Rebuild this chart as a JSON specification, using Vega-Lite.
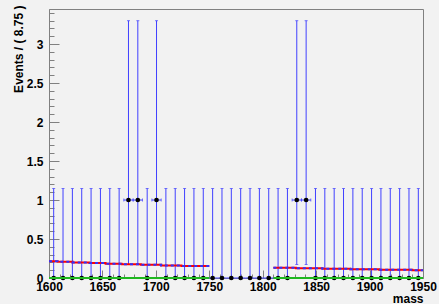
{
  "$schema": "https://vega.github.io/schema/vega-lite/v6.json",
  "width": 374,
  "height": 269,
  "autosize": {"type": "none"},
  "padding": {"left": 49, "top": 9, "right": 16, "bottom": 26},
  "background": "#f2f2f2",
  "config": {
    "view": {"stroke": "#808080", "strokeWidth": 1, "fill": "#f2f2f2"},
    "axis": {"domainColor": "#808080", "tickColor": "#808080", "labelFont": "Liberation Sans", "labelFontWeight": "bold", "labelFontSize": 12, "labelColor": "#000000", "titleFont": "Liberation Sans", "titleFontWeight": "bold", "titleFontSize": 12, "titleColor": "#000000", "grid": false, "labelOverlap": false, "labelFlush": false}
  },
  "datasets": {
    "bins": [
      {"mass": 1604.375, "n": 0, "lo": 0, "hi": 1.148, "xlo": 1600, "xhi": 1608.75},
      {"mass": 1613.125, "n": 0, "lo": 0, "hi": 1.148, "xlo": 1608.75, "xhi": 1617.5},
      {"mass": 1621.875, "n": 0, "lo": 0, "hi": 1.148, "xlo": 1617.5, "xhi": 1626.25},
      {"mass": 1630.625, "n": 0, "lo": 0, "hi": 1.148, "xlo": 1626.25, "xhi": 1635},
      {"mass": 1639.375, "n": 0, "lo": 0, "hi": 1.148, "xlo": 1635, "xhi": 1643.75},
      {"mass": 1648.125, "n": 0, "lo": 0, "hi": 1.148, "xlo": 1643.75, "xhi": 1652.5},
      {"mass": 1656.875, "n": 0, "lo": 0, "hi": 1.148, "xlo": 1652.5, "xhi": 1661.25},
      {"mass": 1665.625, "n": 0, "lo": 0, "hi": 1.148, "xlo": 1661.25, "xhi": 1670},
      {"mass": 1674.375, "n": 1, "lo": 0.173, "hi": 3.3, "xlo": 1670, "xhi": 1678.75},
      {"mass": 1683.125, "n": 1, "lo": 0.173, "hi": 3.3, "xlo": 1678.75, "xhi": 1687.5},
      {"mass": 1691.875, "n": 0, "lo": 0, "hi": 1.148, "xlo": 1687.5, "xhi": 1696.25},
      {"mass": 1700.625, "n": 1, "lo": 0.173, "hi": 3.3, "xlo": 1696.25, "xhi": 1705},
      {"mass": 1709.375, "n": 0, "lo": 0, "hi": 1.148, "xlo": 1705, "xhi": 1713.75},
      {"mass": 1718.125, "n": 0, "lo": 0, "hi": 1.148, "xlo": 1713.75, "xhi": 1722.5},
      {"mass": 1726.875, "n": 0, "lo": 0, "hi": 1.148, "xlo": 1722.5, "xhi": 1731.25},
      {"mass": 1735.625, "n": 0, "lo": 0, "hi": 1.148, "xlo": 1731.25, "xhi": 1740},
      {"mass": 1744.375, "n": 0, "lo": 0, "hi": 1.148, "xlo": 1740, "xhi": 1748.75},
      {"mass": 1753.125, "n": 0, "lo": 0, "hi": 1.148, "xlo": 1748.75, "xhi": 1757.5},
      {"mass": 1761.875, "n": 0, "lo": 0, "hi": 1.148, "xlo": 1757.5, "xhi": 1766.25},
      {"mass": 1770.625, "n": 0, "lo": 0, "hi": 1.148, "xlo": 1766.25, "xhi": 1775},
      {"mass": 1779.375, "n": 0, "lo": 0, "hi": 1.148, "xlo": 1775, "xhi": 1783.75},
      {"mass": 1788.125, "n": 0, "lo": 0, "hi": 1.148, "xlo": 1783.75, "xhi": 1792.5},
      {"mass": 1796.875, "n": 0, "lo": 0, "hi": 1.148, "xlo": 1792.5, "xhi": 1801.25},
      {"mass": 1805.625, "n": 0, "lo": 0, "hi": 1.148, "xlo": 1801.25, "xhi": 1810},
      {"mass": 1814.375, "n": 0, "lo": 0, "hi": 1.148, "xlo": 1810, "xhi": 1818.75},
      {"mass": 1823.125, "n": 0, "lo": 0, "hi": 1.148, "xlo": 1818.75, "xhi": 1827.5},
      {"mass": 1831.875, "n": 1, "lo": 0.173, "hi": 3.3, "xlo": 1827.5, "xhi": 1836.25},
      {"mass": 1840.625, "n": 1, "lo": 0.173, "hi": 3.3, "xlo": 1836.25, "xhi": 1845},
      {"mass": 1849.375, "n": 0, "lo": 0, "hi": 1.148, "xlo": 1845, "xhi": 1853.75},
      {"mass": 1858.125, "n": 0, "lo": 0, "hi": 1.148, "xlo": 1853.75, "xhi": 1862.5},
      {"mass": 1866.875, "n": 0, "lo": 0, "hi": 1.148, "xlo": 1862.5, "xhi": 1871.25},
      {"mass": 1875.625, "n": 0, "lo": 0, "hi": 1.148, "xlo": 1871.25, "xhi": 1880},
      {"mass": 1884.375, "n": 0, "lo": 0, "hi": 1.148, "xlo": 1880, "xhi": 1888.75},
      {"mass": 1893.125, "n": 0, "lo": 0, "hi": 1.148, "xlo": 1888.75, "xhi": 1897.5},
      {"mass": 1901.875, "n": 0, "lo": 0, "hi": 1.148, "xlo": 1897.5, "xhi": 1906.25},
      {"mass": 1910.625, "n": 0, "lo": 0, "hi": 1.148, "xlo": 1906.25, "xhi": 1915},
      {"mass": 1919.375, "n": 0, "lo": 0, "hi": 1.148, "xlo": 1915, "xhi": 1923.75},
      {"mass": 1928.125, "n": 0, "lo": 0, "hi": 1.148, "xlo": 1923.75, "xhi": 1932.5},
      {"mass": 1936.875, "n": 0, "lo": 0, "hi": 1.148, "xlo": 1932.5, "xhi": 1941.25},
      {"mass": 1945.625, "n": 0, "lo": 0, "hi": 1.148, "xlo": 1941.25, "xhi": 1950}
    ],
    "curve": [
      {"seg": "a", "x": 1600, "y": 0.215},
      {"seg": "a", "x": 1608, "y": 0.207},
      {"seg": "a", "x": 1622, "y": 0.199},
      {"seg": "a", "x": 1638, "y": 0.191},
      {"seg": "a", "x": 1653, "y": 0.183},
      {"seg": "a", "x": 1668, "y": 0.176},
      {"seg": "a", "x": 1686, "y": 0.169},
      {"seg": "a", "x": 1705, "y": 0.161},
      {"seg": "a", "x": 1724, "y": 0.154},
      {"seg": "a", "x": 1750, "y": 0.154},
      {"seg": "b", "x": 1810, "y": 0.133},
      {"seg": "b", "x": 1831, "y": 0.126},
      {"seg": "b", "x": 1856, "y": 0.119},
      {"seg": "b", "x": 1882, "y": 0.112},
      {"seg": "b", "x": 1909, "y": 0.105},
      {"seg": "b", "x": 1940, "y": 0.098},
      {"seg": "b", "x": 1950, "y": 0.098}
    ],
    "zero": [
      {"x1": 1600, "x2": 1750, "y": 0},
      {"x1": 1810, "x2": 1950, "y": 0}
    ]
  },
  "resolve": {"axis": {"x": "independent", "y": "independent"}},
  "layer": [
    {
      "layer": [
        {
          "data": {"name": "bins"},
          "mark": {"type": "rule", "color": "#4040ff", "strokeWidth": 1},
          "encoding": {
            "x": {"field": "mass", "type": "quantitative", "scale": {"domain": [1600, 1950], "nice": false, "zero": false},
              "title": "mass",
              "axis": {
                "values": [1600, 1650, 1700, 1750, 1800, 1850, 1900, 1950],
                "format": "d",
                "tickSize": -8,
                "labelPadding": 11,
                "titleAnchor": "end",
                "titleAlign": "right",
                "titleX": 374,
                "titleY": 24,
                "titleBaseline": "alphabetic"
              }
            },
            "y": {"field": "lo", "type": "quantitative", "scale": {"domain": [0, 3.45], "nice": false},
              "title": "Events / ( 8.75 )",
              "axis": {
                "values": [0, 0.5, 1, 1.5, 2, 2.5, 3],
                "format": "~g",
                "tickSize": -10,
                "labelPadding": 16,
                "titleAngle": -90,
                "titleAlign": "right",
                "titleBaseline": "middle",
                "titleX": -31,
                "titleY": -4
              }
            },
            "y2": {"field": "hi"}
          }
        },
        {
          "data": {"name": "bins"},
          "mark": {"type": "tick", "color": "#4040ff", "orient": "horizontal", "size": 3, "thickness": 1},
          "encoding": {
            "x": {"field": "mass", "type": "quantitative"},
            "y": {"field": "hi", "type": "quantitative"}
          }
        },
        {
          "data": {"name": "bins"},
          "transform": [{"filter": "datum.n > 0"}],
          "mark": {"type": "tick", "color": "#4040ff", "orient": "horizontal", "size": 3, "thickness": 1},
          "encoding": {
            "x": {"field": "mass", "type": "quantitative"},
            "y": {"field": "lo", "type": "quantitative"}
          }
        },
        {
          "data": {"name": "bins"},
          "mark": {"type": "rule", "color": "#4040ff", "strokeWidth": 1},
          "encoding": {
            "x": {"field": "xlo", "type": "quantitative"},
            "x2": {"field": "xhi"},
            "y": {"field": "n", "type": "quantitative"}
          }
        },
        {
          "data": {"name": "bins"},
          "transform": [{"filter": "datum.n > 0"}],
          "mark": {"type": "tick", "color": "#4040ff", "orient": "vertical", "size": 3, "thickness": 1},
          "encoding": {
            "x": {"field": "xlo", "type": "quantitative"},
            "y": {"field": "n", "type": "quantitative"}
          }
        },
        {
          "data": {"name": "bins"},
          "transform": [{"filter": "datum.n > 0"}],
          "mark": {"type": "tick", "color": "#4040ff", "orient": "vertical", "size": 3, "thickness": 1},
          "encoding": {
            "x": {"field": "xhi", "type": "quantitative"},
            "y": {"field": "n", "type": "quantitative"}
          }
        },
        {
          "data": {"name": "curve"},
          "mark": {"type": "line", "color": "#ff0000", "strokeWidth": 2, "interpolate": "step-after"},
          "encoding": {
            "x": {"field": "x", "type": "quantitative"},
            "y": {"field": "y", "type": "quantitative"},
            "detail": {"field": "seg"}
          }
        },
        {
          "data": {"name": "curve"},
          "mark": {"type": "line", "color": "#3030ff", "strokeWidth": 2, "strokeDash": [3, 3], "interpolate": "step-after"},
          "encoding": {
            "x": {"field": "x", "type": "quantitative"},
            "y": {"field": "y", "type": "quantitative"},
            "detail": {"field": "seg"}
          }
        },
        {
          "data": {"name": "bins"},
          "mark": {"type": "point", "shape": "circle", "filled": true, "color": "#000000", "size": 22, "opacity": 1},
          "encoding": {
            "x": {"field": "mass", "type": "quantitative"},
            "y": {"field": "n", "type": "quantitative"}
          }
        }
      ]
    },
    {
      "data": {"name": "zero"},
      "mark": {"type": "rule", "color": "#1fb81f", "strokeWidth": 2},
      "encoding": {
        "x": {"field": "x1", "type": "quantitative",
          "axis": {
            "orient": "bottom",
            "values": [1610,1620,1630,1640,1660,1670,1680,1690,1710,1720,1730,1740,1760,1770,1780,1790,1810,1820,1830,1840,1860,1870,1880,1890,1910,1920,1930,1940],
            "labels": false, "domain": false, "title": null, "tickSize": -4
          }
        },
        "x2": {"field": "x2"},
        "y": {"field": "y", "type": "quantitative",
          "axis": {
            "orient": "left",
            "values": [0.1,0.2,0.3,0.4,0.6,0.7,0.8,0.9,1.1,1.2,1.3,1.4,1.6,1.7,1.8,1.9,2.1,2.2,2.3,2.4,2.6,2.7,2.8,2.9,3.1,3.2,3.3,3.4],
            "labels": false, "domain": false, "title": null, "tickSize": -5
          }
        }
      }
    }
  ]
}
